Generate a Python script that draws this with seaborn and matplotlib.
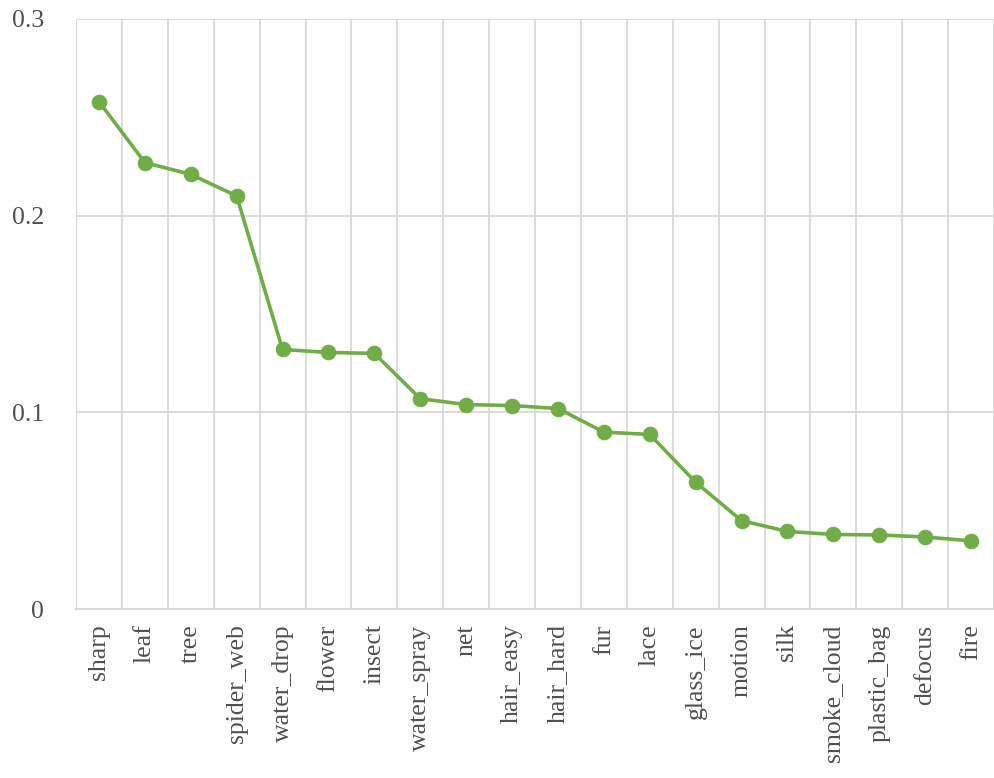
import numpy as np
import pandas as pd
import matplotlib
matplotlib.use("Agg")
import matplotlib.pyplot as plt
import seaborn as sns

# data
categories = ['sharp', 'leaf', 'tree', 'spider_web', 'water_drop', 'flower', 'insect',
              'water_spray', 'net', 'hair_easy', 'hair_hard', 'fur', 'lace', 'glass_ice',
              'motion', 'silk', 'smoke_cloud', 'plastic_bag', 'defocus', 'fire']
values = [0.258, 0.227, 0.221, 0.210, 0.132, 0.1305, 0.130,
          0.107, 0.104, 0.1035, 0.102, 0.090, 0.0888, 0.0645,
          0.045, 0.0395, 0.038, 0.0377, 0.0367, 0.0347]
y_ticks = [0, 0.1, 0.2, 0.3]
y_tick_labels = ['0', '0.1', '0.2', '0.3']

df = pd.DataFrame({'x': np.arange(len(categories)), 'value': values})

sns.set_style('white')
plt.rcParams['font.family'] = ['Liberation Serif', 'DejaVu Serif']

fig = plt.figure(figsize=(9.95, 7.78), dpi=100)
ax = fig.add_axes([0.0764, 0.217, 0.9226, 0.7586])

green = '#70AD47'
grid_c = '#D9D9D9'
text_c = '#505050'

sns.lineplot(data=df, x='x', y='value', ax=ax, color=green, linewidth=2.6,
             marker='o', markersize=10.5, markeredgecolor=green, zorder=3)

ax.set_xlim(-0.5, len(categories) - 0.5)
ax.set_ylim(0, 0.3)
ax.set_yticks(y_ticks)
ax.set_yticklabels(y_tick_labels)
ax.set_xticks(np.arange(len(categories)))
ax.set_xticklabels(categories, rotation=90)
ax.set_xticks(np.arange(len(categories) + 1) - 0.5, minor=True)

ax.grid(axis='y', which='major', color=grid_c, linewidth=1.3)
ax.grid(axis='x', which='minor', color=grid_c, linewidth=1.3)
ax.grid(axis='x', which='major', visible=False)

for s in ['top', 'right', 'left']:
    ax.spines[s].set_visible(False)
ax.spines['bottom'].set_color(grid_c)
ax.spines['bottom'].set_linewidth(1.5)

ax.tick_params(axis='both', which='both', length=0, colors=text_c, labelsize=18.5)
ax.tick_params(axis='y', pad=23)
ax.tick_params(axis='x', pad=11)
ax.set_xlabel('')
ax.set_ylabel('')

fig.savefig('out.png', dpi=100)
